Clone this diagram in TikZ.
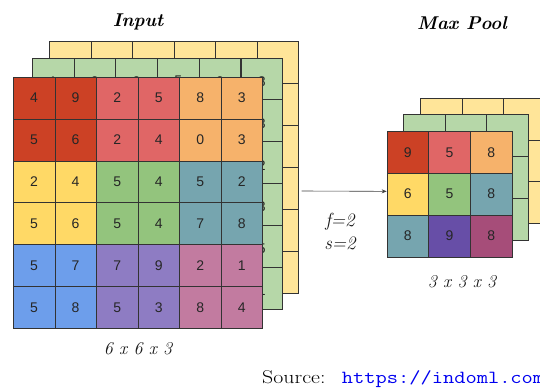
\documentclass[tikz,border=0pt]{standalone}
\usepackage{fontspec}
\usetikzlibrary{arrows.meta}
\newfontfamily\digitfont{Liberation Sans}
\newcommand\lowdigit[1]{\raisebox{-2.5pt}[\height][\depth]{#1}}
\definecolor{in00}{HTML}{CC4125}
\definecolor{in01}{HTML}{E06666}
\definecolor{in02}{HTML}{F6B26B}
\definecolor{in10}{HTML}{FFD966}
\definecolor{in11}{HTML}{93C47D}
\definecolor{in12}{HTML}{76A5AF}
\definecolor{in20}{HTML}{6D9EEB}
\definecolor{in21}{HTML}{8E7CC3}
\definecolor{in22}{HTML}{C27BA0}
\definecolor{layG}{HTML}{B6D7A8}
\definecolor{layY}{HTML}{FFE599}
\definecolor{pl11}{HTML}{CC4125}
\definecolor{pl12}{HTML}{E06666}
\definecolor{pl13}{HTML}{F6B26B}
\definecolor{pl21}{HTML}{FFD966}
\definecolor{pl22}{HTML}{93C47D}
\definecolor{pl23}{HTML}{76A5AF}
\definecolor{pl31}{HTML}{76A5AF}
\definecolor{pl32}{HTML}{674EA7}
\definecolor{pl33}{HTML}{A64D79}
\definecolor{urlblue}{HTML}{0000F0}
\begin{document}
\begin{tikzpicture}[x=1pt,y=-1pt,
  cell/.style={draw=black!80, line width=0.6pt, minimum width=41.55pt, minimum height=41.9pt,
    inner sep=0pt, anchor=north west, font=\digitfont\fontsize{14}{14}\selectfont, text=black!85},
  pcell/.style={cell, minimum width=41.67pt},
  title/.style={font=\fontsize{18.5}{20}\selectfont\bfseries\itshape},
  dimlabel/.style={font=\fontsize{18}{19}\selectfont\itshape, text=black!90},
  arr/.style={draw=black!75, line width=0.6pt, -{Stealth[length=5pt,width=4pt]}}]
\clip (0,0) rectangle (540,388);
\fill[white] (0,0) rectangle (540,388);

% ---------- Input: yellow back layer
\foreach \row [count=\r] in {{1,3,3,7,3,6},{2,5,1,4,6,2},{4,1,7,2,5,3},{6,2,3,8,1,4},{3,7,2,5,4,1},{5,4,6,1,2,7}} {
  \foreach \d [count=\c] in \row {
    \node[cell, fill=layY] (iny-\r-\c) at ({49+41.55*(\c-1)},{41+42*(\r-1)}) {\lowdigit{\d}};
  }
}
% ---------- Input: green middle layer
\foreach \row [count=\r] in {{1,0,0,5,0,8},{4,3,6,1,7,3},{3,5,1,9,2,2},{6,4,7,3,5,3},{2,8,4,6,1,5},{7,1,9,2,4,1}} {
  \foreach \d [count=\c] in \row {
    \node[cell, fill=layG] (ing-\r-\c) at ({32+41.72*(\c-1)},{57.5+41.97*(\r-1)}) {\lowdigit{\d}};
  }
}
% ---------- Input: front layer
\foreach \row [count=\r] in {{4,9,2,5,8,3},{5,6,2,4,0,3},{2,4,5,4,5,2},{5,6,5,4,7,8},{5,7,7,9,2,1},{5,8,5,3,8,4}} {
  \foreach \d [count=\c] in \row {
    \pgfmathtruncatemacro\br{int((\r-1)/2)}
    \pgfmathtruncatemacro\bc{int((\c-1)/2)}
    \node[cell, fill=in\br\bc] (in-\r-\c) at ({13+41.55*(\c-1)},{76.7+41.93*(\r-1)}) {\d};
  }
}

% ---------- Max pool: yellow back layer
\foreach \row [count=\r] in {{7,7,9},{6,8,5},{9,4,7}} {
  \foreach \d [count=\c] in \row {
    \node[pcell, fill=layY] (ply-\r-\c) at ({420+41.67*(\c-1)},{97.7+41.87*(\r-1)}) {\lowdigit{\d}};
  }
}
% ---------- Max pool: green middle layer
\foreach \row [count=\r] in {{9,7,8},{8,6,9},{7,9,6}} {
  \foreach \d [count=\c] in \row {
    \node[pcell, fill=layG, minimum width=41.47pt] (plg-\r-\c) at ({403.3+41.47*(\c-1)},{114.3+41.9*(\r-1)}) {\lowdigit{\d}};
  }
}
% ---------- Max pool: front layer
\foreach \row [count=\r] in {{9,5,8},{6,5,8},{8,9,8}} {
  \foreach \d [count=\c] in \row {
    \node[pcell, fill=pl\r\c] (pl-\r-\c) at ({386.7+41.67*(\c-1)},{131+41.9*(\r-1)}) {\d};
  }
}

% ---------- arrow
\coordinate (arrstart) at (301.7,191);
\draw[arr] (arrstart) -- ([yshift=2.8pt]pl-2-1.west);

% ---------- labels
\node[title] (tin) at (138,22) {Input};
\node[title] (tpool) at (462,23) {Max Pool};
\node[dimlabel] (din) at (138,349) {6 x 6 x 3};
\node[dimlabel] (dpool) at (462,282) {3 x 3 x 3};
\node[dimlabel, font=\fontsize{19}{20}\selectfont\itshape] (fl) at (340,222) {f=2};
\node[dimlabel, font=\fontsize{19}{20}\selectfont\itshape] (sl) at (340,243) {s=2};
\node[anchor=base west, inner sep=0pt, xscale=1.18, font=\fontsize{18.5}{20}\selectfont] (src) at (262,383)
  {Source:\hspace{0.75em}\textcolor{urlblue}{\texttt{https://indoml.com}}};
\end{tikzpicture}
\end{document}
